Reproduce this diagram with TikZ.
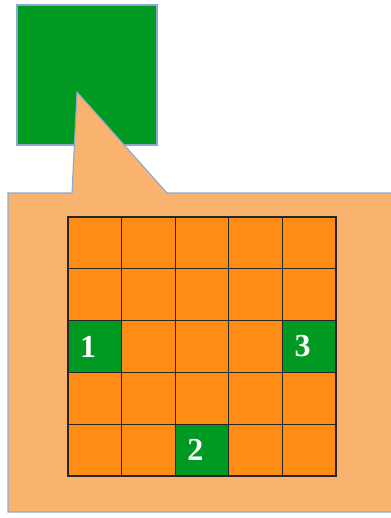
\documentclass[tikz,border=0pt]{standalone}
\usepackage{fontspec}
\setmainfont{Liberation Serif}
\usepackage{xcolor}
\usepackage{tikz}

\definecolor{cellgreen}{RGB}{0,154,34}
\definecolor{cellorange}{RGB}{255,140,20}
\definecolor{calloutfill}{RGB}{249,179,111}
\definecolor{edgeblue}{RGB}{140,168,208}

\begin{document}
\begin{tikzpicture}[x=0.75pt, y=-0.75pt]
    \tikzstyle{target} = [rectangle, draw=edgeblue, line width=0.8pt, fill=cellgreen, inner sep=0pt, minimum size=105pt]
    \tikzstyle{callout} = [draw=edgeblue, line width=0.8pt, fill=calloutfill, line join=miter]
    \tikzstyle{cell} = [rectangle, draw=black!85, line width=1pt, fill=cellorange, inner sep=0pt, minimum width=40.2pt, minimum height=38.85pt]
    \tikzstyle{num} = [text=white, font=\fontsize{24}{24}\selectfont\bfseries, inner sep=0pt]
    \tikzset{cell 31/.style={fill=cellgreen}, cell 35/.style={fill=cellgreen}, cell 53/.style={fill=cellgreen}}

    \useasboundingbox (0,0) rectangle (390,518);

    % the square that is zoomed in on
    \node [target] (square) at (87,75) {};

    % callout pointing into the square
    \coordinate (tip) at (77,92);
    \draw [callout] (8,193) -- (72,193) -- (tip) -- (167,193) -- (404,193) -- (404,512) -- (8,512) -- cycle;

    % 5x5 grid
    \foreach \r in {1,...,5}
        \foreach \c in {1,...,5}
            \node [cell, cell \r\c/.try] (c\r\c) at ({68+53.6*(\c-0.5)},{217+51.8*(\r-0.5)}) {};

    \node [num] (n1) at ([xshift=-5pt]c31) {1};
    \node [num] (n2) at ([xshift=-5pt]c53) {2};
    \node [num] (n3) at ([xshift=-5pt]c35) {3};
\end{tikzpicture}
\end{document}
